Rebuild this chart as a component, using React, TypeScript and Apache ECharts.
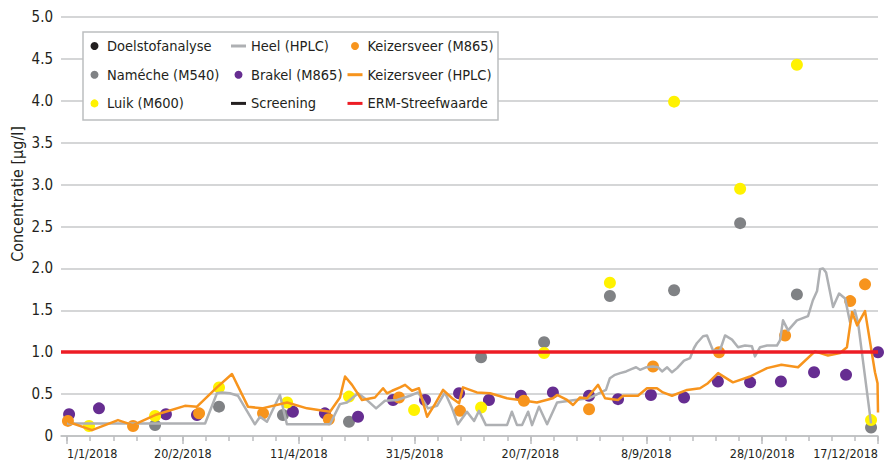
import React, { useEffect, useRef } from 'react';
import * as echarts from 'echarts';

const FONT = "'DejaVu Sans Condensed', 'Liberation Sans Narrow', sans-serif";
const TEXT = '#231f20';

// day offsets from 1/1/2018
const minorTickDays = [0, 10, 20, 30, 40, 50, 60, 70, 80, 90, 100, 110, 120, 130, 140, 150, 160, 170, 180, 190, 200, 210, 220, 230, 240, 250, 260, 270, 280, 290, 300, 310, 320, 330, 340, 350];
const labelDays = [0, 50, 100, 150, 200, 250, 300, 350];
const yTickStep = 0.5;
const yMax = 5;
const ermValue = 1.0;

const heelHplc: [number, number][] = [
  [0, 0.15], [59.6, 0.15], [64.7, 0.51], [66.9, 0.52], [70.3, 0.51], [73.8, 0.48], [81.1, 0.14], [83.3, 0.23], [86.3, 0.17], [91.9, 0.49], [94.9, 0.14], [113.5, 0.14], [117.8, 0.38], [120.8, 0.4], [125.6, 0.51], [129, 0.44], [133.4, 0.33], [137.2, 0.42], [142.4, 0.43], [148, 0.48], [151.5, 0.52], [155.8, 0.33], [159.7, 0.36], [163.1, 0.52], [166.2, 0.33], [168.7, 0.14], [172.6, 0.29], [175.7, 0.18], [177.8, 0.3], [180.8, 0.13], [189.9, 0.13], [192, 0.29], [194.2, 0.13], [196.4, 0.13], [199, 0.29], [200.7, 0.13], [203.7, 0.35], [207.2, 0.14], [211.5, 0.4], [219.2, 0.43], [225.2, 0.45], [230.4, 0.52], [232.6, 0.55], [234.3, 0.69], [236.5, 0.73], [238.7, 0.75], [241.3, 0.77], [243.8, 0.8], [245.6, 0.82], [247.3, 0.79], [249.9, 0.82], [252.9, 0.83], [255.1, 0.82], [256.8, 0.77], [259, 0.82], [261.1, 0.76], [263.3, 0.81], [266.3, 0.9], [268.9, 0.93], [270.6, 1.05], [271.9, 1.11], [274.5, 1.19], [276.2, 1.2], [278.8, 1.02], [281.8, 1.02], [284, 1.2], [287, 1.15], [289.6, 1.06], [292.6, 1.08], [295.6, 1.07], [296.9, 0.95], [299.1, 1.06], [302.1, 1.08], [306.4, 1.08], [307.7, 1.14], [309, 1.38], [311.2, 1.26], [315, 1.38], [319.8, 1.43], [321.9, 1.62], [323.7, 1.73], [325, 1.99], [326.3, 2.0], [327.6, 1.95], [330.6, 1.54], [333.2, 1.7], [335.8, 1.64], [337.9, 1.36], [340, 1.5], [341.4, 1.35], [347, 0.15],
];

const keizersveerHplc: [number, number][] = [
  [0.4, 0.17], [10.8, 0.07], [22, 0.19], [28.5, 0.13], [38, 0.25], [50.9, 0.36], [56.1, 0.35], [64.7, 0.58], [71.2, 0.74], [78.1, 0.35], [84.2, 0.33], [95, 0.4], [103.6, 0.33], [113.5, 0.29], [117.8, 0.46], [120, 0.71], [123, 0.61], [127.3, 0.43], [132.9, 0.46], [136.4, 0.57], [138.1, 0.51], [140.3, 0.54], [143.7, 0.58], [145.9, 0.61], [148.9, 0.54], [151.9, 0.57], [155.4, 0.23], [158.8, 0.38], [162.3, 0.55], [166.2, 0.45], [169.2, 0.39], [170.9, 0.58], [176.9, 0.52], [182.6, 0.51], [189.9, 0.45], [195.5, 0.43], [202.8, 0.4], [209.7, 0.45], [211.5, 0.49], [215.8, 0.43], [218.4, 0.37], [221.4, 0.46], [224.4, 0.45], [229.2, 0.61], [232.2, 0.45], [237.8, 0.43], [240, 0.48], [246.4, 0.48], [250.3, 0.57], [254.6, 0.57], [257.2, 0.52], [261.1, 0.48], [267.6, 0.55], [273.2, 0.57], [276.6, 0.63], [281, 0.75], [287.4, 0.64], [294.8, 0.71], [302.1, 0.81], [308.3, 0.85], [315.5, 0.82], [322.8, 1.01], [328.4, 0.96], [333.6, 0.99], [336.6, 1.06], [338.8, 1.48], [341, 1.32], [344.4, 1.49], [348.7, 0.76], [349.8, 0.63], [350, 0.28],
];

const nameche: [number, number][] = [
  [38, 0.13], [65.6, 0.35], [93.2, 0.25], [121.7, 0.17], [178.7, 0.94], [205.9, 1.12], [234.3, 1.67], [262, 1.74], [290.5, 2.54], [315, 1.69], [347, 0.1],
];

const luik: [number, number][] = [
  [9.5, 0.12], [38, 0.24], [65.6, 0.58], [95, 0.4], [121.7, 0.47], [149.8, 0.31], [178.7, 0.34], [205.9, 0.99], [234.3, 1.83], [262, 3.99], [290.5, 2.95], [315, 4.43], [347, 0.19],
];

const brakel: [number, number][] = [
  [0.9, 0.26], [13.8, 0.33], [42.7, 0.26], [56.1, 0.25], [97.5, 0.29], [111.3, 0.27], [125.6, 0.23], [140.7, 0.43], [154.5, 0.43], [169.2, 0.51], [182.1, 0.43], [195.9, 0.48], [209.7, 0.52], [225.3, 0.48], [237.8, 0.44], [252, 0.49], [266.3, 0.46], [280.9, 0.65], [294.8, 0.64], [308.1, 0.65], [322.4, 0.76], [336.2, 0.73], [350, 1.0],
];

const keizersveerM865: [number, number][] = [
  [0.4, 0.18], [28.5, 0.12], [57, 0.27], [84.6, 0.27], [113, 0.2], [143.3, 0.46], [169.6, 0.3], [197.2, 0.42], [225.3, 0.32], [252.9, 0.83], [281.4, 1.0], [309.9, 1.2], [338, 1.61], [344.4, 1.81],
];

const LINE_ICON = 'path://M0,0H15V3H0Z';
const legendCol1 = ['Doelstofanalyse', 'Naméche (M540)', 'Luik (M600)'];
const legendCol2 = [{ name: 'Heel (HPLC)', icon: LINE_ICON }, 'Brakel (M865)', { name: 'Screening', icon: LINE_ICON }];
const legendCol3 = ['Keizersveer (M865)', { name: 'Keizersveer (HPLC)', icon: LINE_ICON }, { name: 'ERM-Streefwaarde', icon: LINE_ICON }];

const START = Date.UTC(2018, 0, 1);
const fmtDay = (d: number) => {
  const dt = new Date(START + Math.round(d) * 86400000);
  return `${dt.getUTCDate()}/${dt.getUTCMonth() + 1}/${dt.getUTCFullYear()}`;
};

const X_MIN = -2.59;
const X_MAX = 350;

export default function App() {
  const ref = useRef<HTMLDivElement>(null);
  useEffect(() => {
    const chart = echarts.init(ref.current!, undefined, { renderer: 'svg' });
    const legendBase = {
      orient: 'vertical',
      padding: 0,
      itemWidth: 15,
      itemHeight: 8,
      itemGap: 8.7,
      top: 36,
      selectedMode: false,
      textStyle: { fontSize: 14.5, color: TEXT, lineHeight: 20, fontFamily: FONT },
    };
    const scatter = (name: string, data: [number, number][], color: string) => ({
      name,
      type: 'scatter',
      data,
      symbol: 'circle',
      symbolSize: 12,
      itemStyle: { color, opacity: 1 },
      emphasis: { disabled: true },
    });
    const line = (name: string, data: [number, number][], color: string, width: number) => ({
      name,
      type: 'line',
      data,
      symbol: 'none',
      showSymbol: false,
      color,
      lineStyle: { color, width, join: 'round' },
      emphasis: { disabled: true },
    });
    chart.setOption({
      animation: false,
      textStyle: { fontFamily: FONT },
      grid: { left: 61, right: 6, top: 17, bottom: 26, containLabel: false },
      legend: [
        { ...legendBase, left: 90.5, data: legendCol1 },
        { ...legendBase, left: 231, data: legendCol2 },
        { ...legendBase, left: 347.5, data: legendCol3 },
      ],
      xAxis: [
        {
          type: 'value',
          min: X_MIN,
          max: X_MAX,
          splitLine: { show: false },
          axisLine: { show: true, lineStyle: { color: '#bcbec0', width: 1.5 } },
          axisTick: { show: true, customValues: minorTickDays, length: 5, lineStyle: { color: '#bcbec0', width: 1.5 } },
          axisLabel: {
            show: true,
            customValues: labelDays,
            formatter: (v: number) => fmtDay(v),
            fontSize: 12.5,
            color: TEXT,
            margin: 11,
            alignMinLabel: 'left',
            alignMaxLabel: 'right',
            fontFamily: FONT,
          },
        },
        {
          type: 'value',
          min: X_MIN,
          max: X_MAX,
          position: 'bottom',
          splitLine: { show: false },
          axisLine: { show: false },
          axisTick: { show: true, customValues: labelDays, length: 8, lineStyle: { color: '#bcbec0', width: 1.5 } },
          axisLabel: { show: false },
        },
      ],
      yAxis: {
        type: 'value',
        min: 0,
        max: yMax,
        interval: yTickStep,
        axisLine: { show: false },
        axisTick: { show: false },
        splitLine: { show: true, lineStyle: { color: '#c7c8ca', width: 1.5 } },
        axisLabel: {
          formatter: (v: number) => (v === 0 ? '0' : v.toFixed(1)),
          fontSize: 15,
          color: TEXT,
          margin: 8,
          fontFamily: FONT,
        },
      },
      graphic: [
        {
          type: 'rect',
          shape: { x: 83, y: 32, width: 415, height: 88 },
          style: { fill: '#ffffff', stroke: '#bcbec0', lineWidth: 1.5 },
          z: 3,
        },
        {
          type: 'text',
          x: 17,
          y: 194,
          rotation: Math.PI / 2,
          style: { text: 'Concentratie [µg/l]', fontSize: 16, fill: TEXT, align: 'center', verticalAlign: 'middle', fontFamily: FONT },
          z: 3,
        },
      ],
      series: [
        scatter('Doelstofanalyse', [], '#231f20'),
        line('Screening', [], '#231f20', 3),
        line('Heel (HPLC)', heelHplc, '#aeb0b3', 2.5),
        line('Keizersveer (HPLC)', keizersveerHplc, '#f7941d', 2.5),
        {
          name: 'ERM-Streefwaarde',
          type: 'line',
          data: [],
          symbol: 'none',
          color: '#ed1c24',
          lineStyle: { color: '#ed1c24', width: 3.5 },
          markLine: {
            silent: true,
            symbol: 'none',
            label: { show: false },
            lineStyle: { color: '#ed1c24', width: 3.5, type: 'solid' },
            emphasis: { disabled: true },
            data: [{ yAxis: ermValue }],
          },
        },
        scatter('Naméche (M540)', nameche, '#808285'),
        scatter('Brakel (M865)', brakel, '#662d91'),
        scatter('Keizersveer (M865)', keizersveerM865, '#f7941d'),
        scatter('Luik (M600)', luik, '#fff200'),
      ],
    });
    return () => chart.dispose();
  }, []);
  return <div ref={ref} style={{ position: 'absolute', left: 0, top: 0, width: 884, height: 462 }} />;
}
